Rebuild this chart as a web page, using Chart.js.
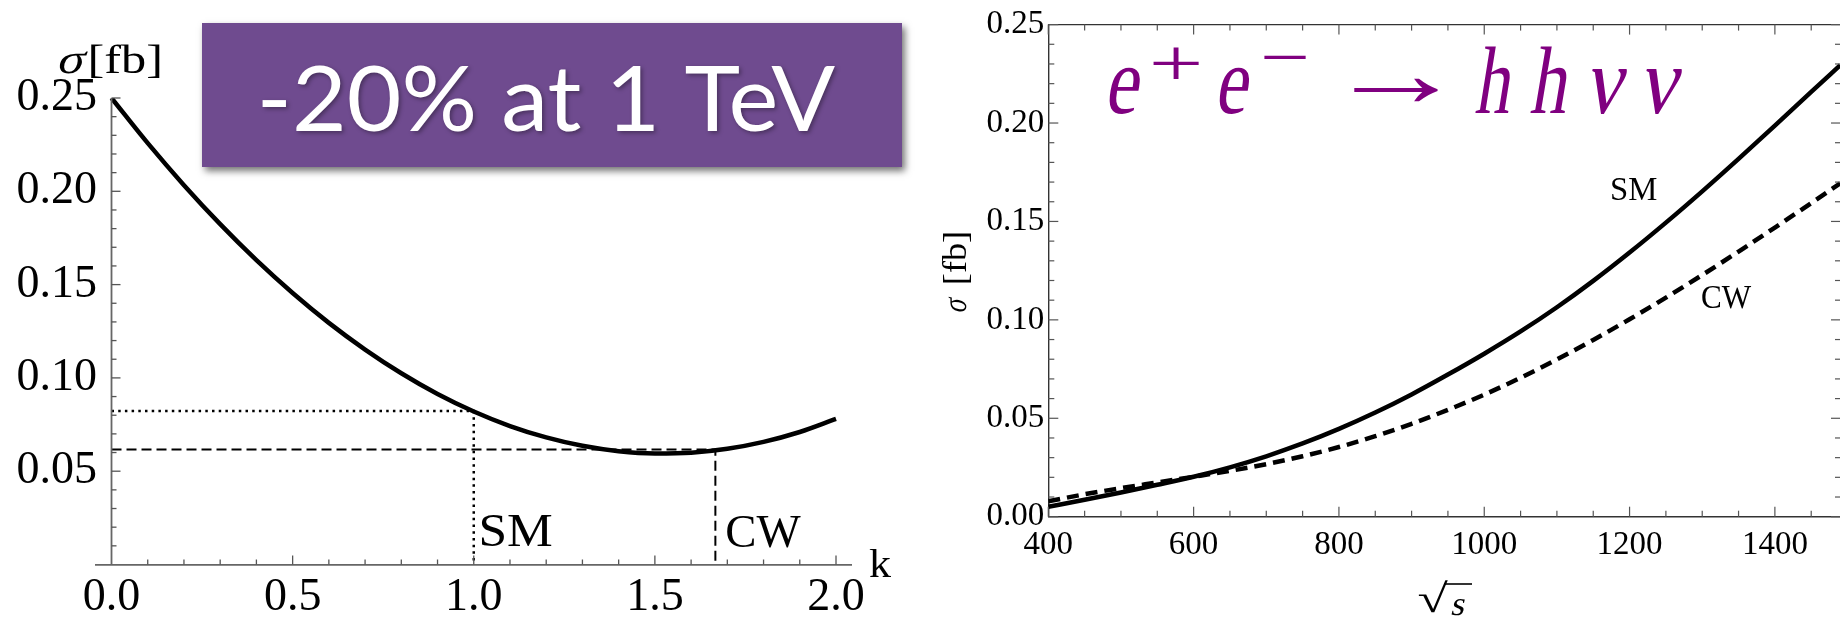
<!DOCTYPE html>
<html><head><meta charset="utf-8">
<script src="https://cdn.jsdelivr.net/npm/chart.js@4.4.1/dist/chart.umd.min.js"></script>
<style>
html,body{margin:0;padding:0;background:#fff;overflow:hidden;width:1840px;height:622px;position:relative}
#left{position:absolute;left:0;top:0}
#right{position:absolute;left:920px;top:0}
</style></head>
<body>
<canvas id="left" width="920" height="622"></canvas>
<canvas id="right" width="930" height="622"></canvas>
<script>
// ---------- data: left panel (sigma vs k at 1 TeV) ----------
const leftK = [0,0.1,0.2,0.3,0.4,0.5,0.6,0.7,0.8,0.9,1.0,1.1,1.2,1.3,1.4,1.5,1.6,1.7,1.8,1.9,2.0];
const leftSigma = [0.250,0.2258,0.2033,0.1824,0.1631,0.1455,0.1295,0.1152,0.1025,0.0914,0.0820,0.0742,0.0681,0.0636,0.0607,0.0595,0.0599,0.0620,0.0657,0.0710,0.0780];
const smRefK = [0,1,1];
const smRefSigma = [0.0822,0.0822,0];
const cwRefK = [0,1.667,1.667];
const cwRefSigma = [0.0616,0.0616,0];
const leftXTicks = [0,0.5,1.0,1.5,2.0];
const leftYTicks = [0.05,0.10,0.15,0.20,0.25];

// ---------- data: right panel (sigma vs sqrt(s)) ----------
const rightSqrtS = [400,450,500,550,600,650,700,750,800,850,900,950,1000,1050,1100,1150,1200,1250,1300,1350,1400,1450,1490];
const rightSM = [0.0050,0.0086,0.0123,0.0162,0.0203,0.0251,0.0307,0.0372,0.0446,0.0529,0.0621,0.0722,0.0828,0.0941,0.1064,0.1198,0.1342,0.1494,0.1653,0.1818,0.1987,0.2158,0.2294];
const rightCW = [0.0078,0.0114,0.0145,0.0174,0.0203,0.0233,0.0267,0.0307,0.0354,0.0409,0.0472,0.0543,0.0620,0.0706,0.0799,0.0898,0.1003,0.1113,0.1228,0.1347,0.1469,0.1593,0.1694];
const rightXTicks = [400,600,800,1000,1200,1400];
const rightYTicks = [0.00,0.05,0.10,0.15,0.20,0.25];

const SERIF = '"Liberation Serif", "Times New Roman", serif';

// helper: draw text so its ink spans [left,right]; vertical anchored by baseline or centre.
// slant > 0 gives an oblique (italic-like) rendering of the upright face.
function drawFit(ctx, text, font, color, left, right, yPos, mode, slant) {
  ctx.save();
  ctx.font = font; ctx.fillStyle = color;
  ctx.textAlign = 'left'; ctx.textBaseline = 'alphabetic';
  const m = ctx.measureText(text);
  const k = slant || 0;
  const inkL = -m.actualBoundingBoxLeft + k * (-m.actualBoundingBoxDescent);
  const inkR = m.actualBoundingBoxRight + k * m.actualBoundingBoxAscent;
  const sx = (right - left) / (inkR - inkL);
  let base = yPos;
  if (mode === 'center') base = yPos - (m.actualBoundingBoxDescent - m.actualBoundingBoxAscent) / 2;
  ctx.translate(left, base);
  ctx.scale(sx, 1);
  ctx.translate(-inkL, 0);
  if (k) ctx.transform(1, 0, -k, 1, 0, 0);
  ctx.fillText(text, 0, 0);
  ctx.restore();
}
function line(ctx, x1, y1, x2, y2) { ctx.beginPath(); ctx.moveTo(x1, y1); ctx.lineTo(x2, y2); ctx.stroke(); }
function pts(xs, ys) { return xs.map((x, i) => ({x: x, y: ys[i]})); }
const SL = 0.22;

// ---------- left chart decorations ----------
const leftDeco = {
  id: 'leftDeco',
  afterDraw(chart) {
    const ctx = chart.ctx, xs = chart.scales.x, ys = chart.scales.y;
    const x0 = xs.getPixelForValue(0), y0 = ys.getPixelForValue(0);
    ctx.save();
    ctx.strokeStyle = '#666'; ctx.lineWidth = 1.8;
    line(ctx, x0, ys.getPixelForValue(0.25), x0, y0);
    ctx.lineWidth = 1.3; ctx.strokeStyle = '#555';
    for (let i = 1; i <= 20; i++) {
      const v = i / 10, major = i % 5 === 0, px = xs.getPixelForValue(v);
      line(ctx, px, y0, px, y0 - (major ? 9 : 5));
    }
    for (let i = 1; i <= 25; i++) {
      const v = i / 100, major = i % 5 === 0, py = ys.getPixelForValue(v);
      line(ctx, x0, py, x0 + (major ? 9 : 5), py);
    }
    drawFit(ctx, 'σ', '42px ' + SERIF, '#000', 57, 88, 73, null, SL);
    drawFit(ctx, '[fb]', '40px ' + SERIF, '#000', 90, 160, 73);
    drawFit(ctx, 'k', '40px ' + SERIF, '#000', 869, 891, 577);
    drawFit(ctx, 'SM', '46px ' + SERIF, '#000', xs.getPixelForValue(1) + 8, xs.getPixelForValue(1) + 78, 545.5);
    drawFit(ctx, 'CW', '46px ' + SERIF, '#000', xs.getPixelForValue(1.667) + 11, xs.getPixelForValue(1.667) + 86, 546.5);
    // purple banner
    ctx.save();
    ctx.shadowColor = 'rgba(0,0,0,0.55)'; ctx.shadowBlur = 7; ctx.shadowOffsetX = 3; ctx.shadowOffsetY = 4;
    ctx.fillStyle = '#6f4b8f';
    ctx.fillRect(202, 23, 700, 144);
    ctx.restore();
    ctx.save();
    ctx.shadowColor = 'rgba(0,0,0,0.35)'; ctx.shadowBlur = 4; ctx.shadowOffsetX = 2; ctx.shadowOffsetY = 2;
    drawFit(ctx, '-20% at 1 TeV', '92px Lato, "Open Sans", sans-serif', '#ffffff', 262, 836, 131);
    ctx.restore();
    ctx.restore();
  }
};

new Chart(document.getElementById('left'), {
  type: 'line',
  data: { datasets: [
    { label: 'σ(k)', data: pts(leftK, leftSigma), borderColor: '#000', borderWidth: 4.5, pointRadius: 0, cubicInterpolationMode: 'monotone', fill: false, order: 0 },
    { label: 'SM', data: pts(smRefK, smRefSigma), borderColor: '#000', borderWidth: 2.5, borderDash: [2.5, 4.2], pointRadius: 0, tension: 0, fill: false, order: 1 },
    { label: 'CW', data: pts(cwRefK, cwRefSigma), borderColor: '#000', borderWidth: 2, borderDash: [10, 5], pointRadius: 0, tension: 0, fill: false, order: 2 }
  ]},
  options: {
    responsive: false, animation: false, devicePixelRatio: 1, events: [],
    layout: { padding: { left: 0, top: 98, right: 69, bottom: 0 } },
    plugins: { legend: { display: false }, tooltip: { enabled: false } },
    scales: {
      x: { type: 'linear', min: -0.0428, max: 2.0414,
        afterFit(s) { s.height = 57.5; },
        afterBuildTicks(s) { s.ticks = leftXTicks.map(v => ({ value: v })); },
        grid: { display: false, drawTicks: false },
        border: { display: true, color: '#666', width: 1.8 },
        ticks: { font: { family: SERIF, size: 46 }, color: '#000', padding: 6, autoSkip: false, maxRotation: 0, callback: v => Number(v).toFixed(1) } },
      y: { type: 'linear', min: 0, max: 0.25,
        afterFit(s) { s.width = 96; },
        afterBuildTicks(s) { s.ticks = leftYTicks.map(v => ({ value: v })); },
        grid: { display: false, drawTicks: false },
        border: { display: false },
        ticks: { font: { family: SERIF, size: 46 }, color: '#000', padding: -1, autoSkip: false, callback: v => Number(v).toFixed(2) } }
    }
  },
  plugins: [leftDeco]
});

// ---------- right chart decorations ----------
const OX = 920;
const rightDeco = {
  id: 'rightDeco',
  afterDraw(chart) {
    const ctx = chart.ctx, xs = chart.scales.x, ys = chart.scales.y, ca = chart.chartArea;
    ctx.save();
    ctx.strokeStyle = '#333'; ctx.lineWidth = 1.4;
    line(ctx, ca.left, ca.top, ca.right, ca.top);
    line(ctx, ca.right, ca.top, ca.right, ca.bottom);
    ctx.strokeStyle = '#555'; ctx.lineWidth = 1.2;
    for (let v = 400; v <= 1491; v += 50) {
      const major = v % 200 === 0, px = xs.getPixelForValue(v), L = major ? 10 : 6;
      line(ctx, px, ca.bottom, px, ca.bottom - L);
      line(ctx, px, ca.top, px, ca.top + L);
    }
    for (let i = 0; i <= 25; i++) {
      const v = i / 100, major = i % 5 === 0, py = ys.getPixelForValue(v), L = major ? 10 : 6;
      line(ctx, ca.left, py, ca.left + L, py);
      line(ctx, ca.right, py, ca.right - L, py);
    }
    drawFit(ctx, 'SM', '33px ' + SERIF, '#000', 1612 - OX, 1657 - OX, 200);
    drawFit(ctx, 'CW', '33px ' + SERIF, '#000', 1702 - OX, 1752 - OX, 308);
    // process title
    const P = '#800080';
    drawFit(ctx, 'e', '96px ' + SERIF, P, 1106 - OX, 1143 - OX, 113, null, SL);
    drawFit(ctx, '+', '68px ' + SERIF, P, 1153 - OX, 1200 - OX, 63, 'center');
    drawFit(ctx, 'e', '96px ' + SERIF, P, 1216 - OX, 1252 - OX, 113, null, SL);
    drawFit(ctx, '−', '68px ' + SERIF, P, 1264 - OX, 1307 - OX, 57, 'center');
    drawFit(ctx, '→', '96px ' + SERIF, P, 1353 - OX, 1438 - OX, 90, 'center');
    drawFit(ctx, 'h', '96px ' + SERIF, P, 1474 - OX, 1519 - OX, 113, null, SL);
    drawFit(ctx, 'h', '96px ' + SERIF, P, 1529 - OX, 1576 - OX, 113, null, SL);
    drawFit(ctx, 'ν', '96px ' + SERIF, P, 1584 - OX, 1628 - OX, 113, null, SL);
    drawFit(ctx, 'ν', '96px ' + SERIF, P, 1638 - OX, 1683 - OX, 113, null, SL);
    // y-axis title (rotated)
    ctx.save();
    ctx.translate(966 - OX, 313);
    ctx.rotate(-Math.PI / 2);
    drawFit(ctx, 'σ', '34px ' + SERIF, '#000', 0, 16.5, 0, null, SL);
    drawFit(ctx, '[fb]', '33px ' + SERIF, '#000', 30, 80, 0);
    ctx.restore();
    // x-axis title sqrt(s)
    drawFit(ctx, '√', '40px ' + SERIF, '#000', 1419 - OX, 1448 - OX, 612);
    drawFit(ctx, 's', '34px ' + SERIF, '#000', 1451 - OX, 1466 - OX, 615, null, SL);
    ctx.strokeStyle = '#000'; ctx.lineWidth = 1.6;
    line(ctx, 1444 - OX, 584, 1472 - OX, 584);
    ctx.restore();
  }
};

new Chart(document.getElementById('right'), {
  type: 'line',
  data: { datasets: [
    { label: 'SM', data: pts(rightSqrtS, rightSM), borderColor: '#000', borderWidth: 4.5, pointRadius: 0, cubicInterpolationMode: 'monotone', fill: false, order: 0 },
    { label: 'CW', data: pts(rightSqrtS, rightCW), borderColor: '#000', borderWidth: 4.5, borderDash: [12, 7], pointRadius: 0, cubicInterpolationMode: 'monotone', fill: false, order: 1 }
  ]},
  options: {
    responsive: false, animation: false, devicePixelRatio: 1, events: [],
    layout: { padding: { left: 0, top: 24.6, right: 9, bottom: 0 } },
    plugins: { legend: { display: false }, tooltip: { enabled: false } },
    scales: {
      x: { type: 'linear', min: 400, max: 1491,
        afterFit(s) { s.height = 105.3; },
        afterBuildTicks(s) { s.ticks = rightXTicks.map(v => ({ value: v })); },
        grid: { display: false, drawTicks: false },
        border: { display: true, color: '#333', width: 1.4 },
        ticks: { font: { family: SERIF, size: 33 }, color: '#000', padding: 9, autoSkip: false, maxRotation: 0, callback: v => String(v) } },
      y: { type: 'linear', min: 0, max: 0.25,
        afterFit(s) { s.width = 128.3; },
        afterBuildTicks(s) { s.ticks = rightYTicks.map(v => ({ value: v })); },
        grid: { display: false, drawTicks: false },
        border: { display: true, color: '#333', width: 1.4 },
        ticks: { font: { family: SERIF, size: 33 }, color: '#000', padding: 4, autoSkip: false, callback: v => Number(v).toFixed(2) } }
    }
  },
  plugins: [rightDeco]
});
</script>
</body></html>
